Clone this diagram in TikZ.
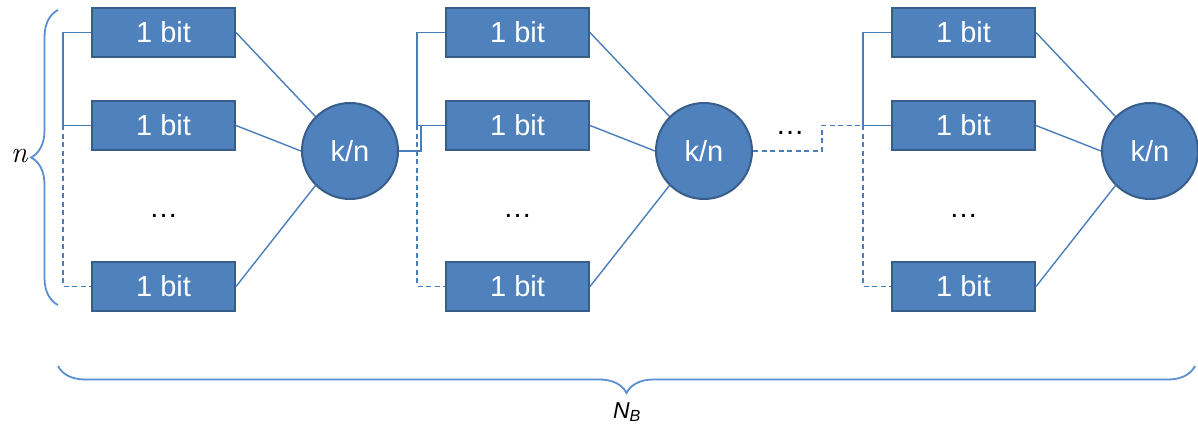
\documentclass[tikz,border=0pt]{standalone}
\usepackage{fontspec}
\setmainfont{Liberation Sans}
\newfontfamily\lmfont{Latin Modern Roman}
\usepackage{tikz}
\usetikzlibrary{calc,positioning,decorations.pathreplacing}
\definecolor{boxc}{HTML}{4F81BD}
\definecolor{edgec}{HTML}{385D8A}
\definecolor{wirec}{HTML}{4A7EBB}
\definecolor{bracec}{HTML}{5B8FD0}
\tikzset{
  bitbox/.style={draw=edgec,line width=2pt,fill=boxc,text=white,minimum width=143pt,minimum height=49pt,inner sep=0pt,font=\fontsize{29}{29}\selectfont},
  vote/.style={circle,draw=edgec,line width=2pt,fill=boxc,text=white,minimum size=96pt,inner sep=0pt,font=\fontsize{29}{29}\selectfont},
  wire/.style={wirec,line width=1.4pt},
  dashwire/.style={wire,dash pattern=on 5pt off 3.5pt},
  dots/.style={font=\fontsize{29}{29}\selectfont,inner sep=0pt},
  brc/.style={bracec,line width=1.8pt,decorate,decoration={brace,amplitude=27pt}}
}
\begin{document}
\begin{tikzpicture}[x=1pt,y=-1pt]
\useasboundingbox (0,0) rectangle (1198,427);
% three blocks of n bits, each voting k/n
\foreach \g/\dx in {1/0,2/354,3/800}{
  \node[bitbox] (b\g1) at (163.5+\dx,32.5) {1 bit};
  \node[bitbox] (b\g2) at (163.5+\dx,125.5) {1 bit};
  \node[bitbox] (b\g3) at (163.5+\dx,286.5) {1 bit};
  \node[dots] (d\g) at (163.5+\dx,216) {\dots};
  \node[vote] (c\g) at (350+\dx,151) {k/n};
  \draw[wire] (b\g1.east) -- (c\g.north west);
  \draw[wire] (b\g2.east) -- (c\g.west);
  \draw[wire] (b\g3.east) -- (c\g.south west);
  \coordinate (j\g) at ($(b\g2.west)+(-28,0)$);
  \draw[wire] (b\g1.west) -| (j\g) -- (b\g2.west);
  \draw[dashwire] (j\g) |- (b\g3.west);
}
\draw[wire] (c1.east) -| ($(b22.west)+(-24,0)$);
\draw[dashwire] (c2.east) -- ++(69,0) |- (j3);
\node[dots] (gap) at (790,133) {\dots};
% braces
\draw[brc] (58,305) -- (58,10);
\node[font=\fontsize{30}{30}\selectfont\lmfont\itshape] (n) at (19,156) {n};
\draw[brc,decoration={mirror}] (58,366) -- (1195,366);
\node[font=\fontsize{23}{23}\selectfont\itshape] (nb) at (627,412) {N\textsubscript{B}};
\end{tikzpicture}
\end{document}
